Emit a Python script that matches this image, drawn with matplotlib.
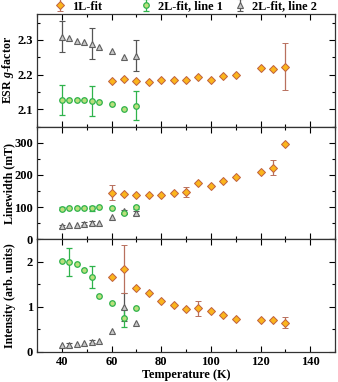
import numpy as np
import matplotlib
matplotlib.use("Agg")
import matplotlib.pyplot as plt
from matplotlib.ticker import MultipleLocator

# ---------------- data ----------------
T_1L = [60, 65, 70, 75, 80, 85, 90, 95, 100, 105, 110, 120, 125, 130]
T_2L = [40, 43, 46, 49, 52, 55, 60, 65, 70]

g_1L = [2.183, 2.187, 2.183, 2.180, 2.184, 2.184, 2.184, 2.192, 2.184, 2.197, 2.200, 2.218, 2.216, 2.223]
g_1L_err = [np.nan]*13 + [0.067]
g_L1 = [2.126, 2.126, 2.126, 2.126, 2.124, 2.120, 2.114, 2.100, 2.111]
g_L1_err = [0.043, np.nan, np.nan, np.nan, 0.043, np.nan, np.nan, np.nan, 0.043]
g_L2 = [2.310, 2.305, 2.298, 2.293, 2.289, 2.280, 2.267, 2.251, 2.255]
g_L2_err = [0.045, np.nan, np.nan, np.nan, 0.045, np.nan, np.nan, np.nan, 0.044]

w_1L = [145, 142, 138, 137, 138, 145, 148, 174, 167, 181, 194, 210, 222, 297]
w_1L_err = [24, np.nan, np.nan, np.nan, np.nan, np.nan, 15, np.nan, np.nan, np.nan, np.nan, np.nan, 23, np.nan]
w_L1 = [95, 96, 96, 96, 96, 101, 96, 82, 100]
w_L1_err = [5, np.nan, np.nan, np.nan, 7, np.nan, np.nan, np.nan, 5]
w_L2 = [41, 43, 46, 48, 51, 52, 70, 87, 83]
w_L2_err = [5, np.nan, np.nan, 5, 5, np.nan, np.nan, 5, 6]

i_1L = [1.67, 1.85, 1.41, 1.30, 1.13, 1.04, 0.96, 0.97, 0.90, 0.82, 0.74, 0.72, 0.71, 0.65]
i_1L_err = [np.nan, 0.53, np.nan, np.nan, np.nan, np.nan, np.nan, 0.17, np.nan, np.nan, np.nan, np.nan, np.nan, 0.12]
i_L1 = [2.02, 1.99, 1.96, 1.83, 1.67, 1.24, 1.09, 0.76, 0.98]
i_L1_err = [np.nan, 0.31, np.nan, np.nan, 0.24, np.nan, np.nan, 0.20, np.nan]
i_L2 = [0.16, 0.16, 0.18, 0.19, 0.23, 0.25, 0.47, 1.00, 0.64]
i_L2_err = [np.nan, 0.04, np.nan, np.nan, 0.04, np.nan, np.nan, 0.31, np.nan]

labels = ["1L-fit", "2L-fit, line 1", "2L-fit, line 2"]

# ---------------- style ----------------
plt.rcParams['font.family'] = ['Liberation Serif', 'DejaVu Serif']
plt.rcParams['font.weight'] = 'bold'
plt.rcParams['axes.labelweight'] = 'bold'
plt.rcParams['mathtext.fontset'] = 'custom'
plt.rcParams['mathtext.it'] = 'Liberation Serif:italic:bold'
plt.rcParams['mathtext.rm'] = 'Liberation Serif:bold'
plt.rcParams['mathtext.bf'] = 'Liberation Serif:bold'

OR_FACE, OR_EDGE, OR_ERR = '#fbb51c', '#c0603e', '#b8705f'
GR_FACE, GR_EDGE, GR_ERR = '#b9e07c', '#2fb34c', '#2fb34c'
GY_FACE, GY_EDGE, GY_ERR = '#c9c9c9', '#5f5f5f', '#555555'

TICK_FS = 9
LABEL_FS = 8.8
YLABEL_FS = 8.6

fig = plt.figure(figsize=(3.38, 3.82), dpi=100)
W, H = 338, 382
left, right, bottom, top = 37/W, 335/W, 1 - 352/H, 1 - 14/H
h = (top - bottom) / 3
axes = [fig.add_axes([left, bottom + (2 - k) * h, right - left, h]) for k in range(3)]

panels = [
    (g_1L, g_1L_err, g_L1, g_L1_err, g_L2, g_L2_err),
    (w_1L, w_1L_err, w_L1, w_L1_err, w_L2, w_L2_err),
    (i_1L, i_1L_err, i_L1, i_L1_err, i_L2, i_L2_err),
]

handles = []
for ax, (a, ae, b, be, c, ce) in zip(axes, panels):
    h3 = ax.errorbar(T_2L, c, yerr=ce, fmt='^', ms=4.4, mfc=GY_FACE, mec=GY_EDGE, mew=0.8,
                     ecolor=GY_ERR, elinewidth=0.9, capsize=2, capthick=0.9, label=labels[2], zorder=3)
    h2 = ax.errorbar(T_2L, b, yerr=be, fmt='o', ms=4.0, mfc=GR_FACE, mec=GR_EDGE, mew=0.9,
                     ecolor=GR_ERR, elinewidth=0.9, capsize=2, capthick=0.9, label=labels[1], zorder=3)
    h1 = ax.errorbar(T_1L, a, yerr=ae, fmt='D', ms=3.8, mfc=OR_FACE, mec=OR_EDGE, mew=0.7,
                     ecolor=OR_ERR, elinewidth=0.9, capsize=2, capthick=0.9, label=labels[0], zorder=4)
    handles = [h1, h2, h3]
    ax.set_xlim(30, 150)
    ax.xaxis.set_major_locator(MultipleLocator(20))
    ax.xaxis.set_minor_locator(MultipleLocator(10))
    ax.tick_params(which='both', direction='in', top=True, right=True, width=0.8)
    ax.tick_params(which='major', length=4, labelsize=TICK_FS, pad=3)
    ax.tick_params(which='minor', length=2.5)
    for s in ax.spines.values():
        s.set_linewidth(0.9)
        s.set_color('#333333')

axes[0].set_ylim(2.05, 2.375)
axes[0].yaxis.set_major_locator(MultipleLocator(0.1))
axes[0].yaxis.set_minor_locator(MultipleLocator(0.05))
axes[0].set_ylabel(r'ESR $g$-factor', fontsize=YLABEL_FS)

axes[1].set_ylim(0, 350)
axes[1].yaxis.set_major_locator(MultipleLocator(100))
axes[1].yaxis.set_minor_locator(MultipleLocator(50))
axes[1].set_ylabel('Linewidth (mT)', fontsize=YLABEL_FS)

axes[2].set_ylim(0, 2.5)
axes[2].yaxis.set_major_locator(MultipleLocator(1))
axes[2].yaxis.set_minor_locator(MultipleLocator(0.5))
axes[2].set_ylabel('Intensity (arb. units)', fontsize=YLABEL_FS)
axes[2].set_xlabel('Temperature (K)', fontsize=LABEL_FS)
axes[2].xaxis.set_label_coords(0.5, -0.155)
axes[2].xaxis.label.set_va('top')

for ax in axes[:2]:
    ax.tick_params(labelbottom=False)
for ax in axes:
    ax.yaxis.set_label_coords(-0.072, 0.5)

# legend entries placed individually above the top panel
marker_x = [60, 146, 240]
fs_px = LABEL_FS * 100 / 72
for hd, lab, mx in zip(handles, labels, marker_x):
    x0 = (mx - 0.4 * fs_px) / W
    fig.legend([hd], [lab], loc='center left', bbox_to_anchor=(x0, 1 - 6.5/H), frameon=False,
               handlelength=0.8, handletextpad=0.6, fontsize=LABEL_FS, borderaxespad=0, borderpad=0)

fig.savefig('out.png', dpi=100)
